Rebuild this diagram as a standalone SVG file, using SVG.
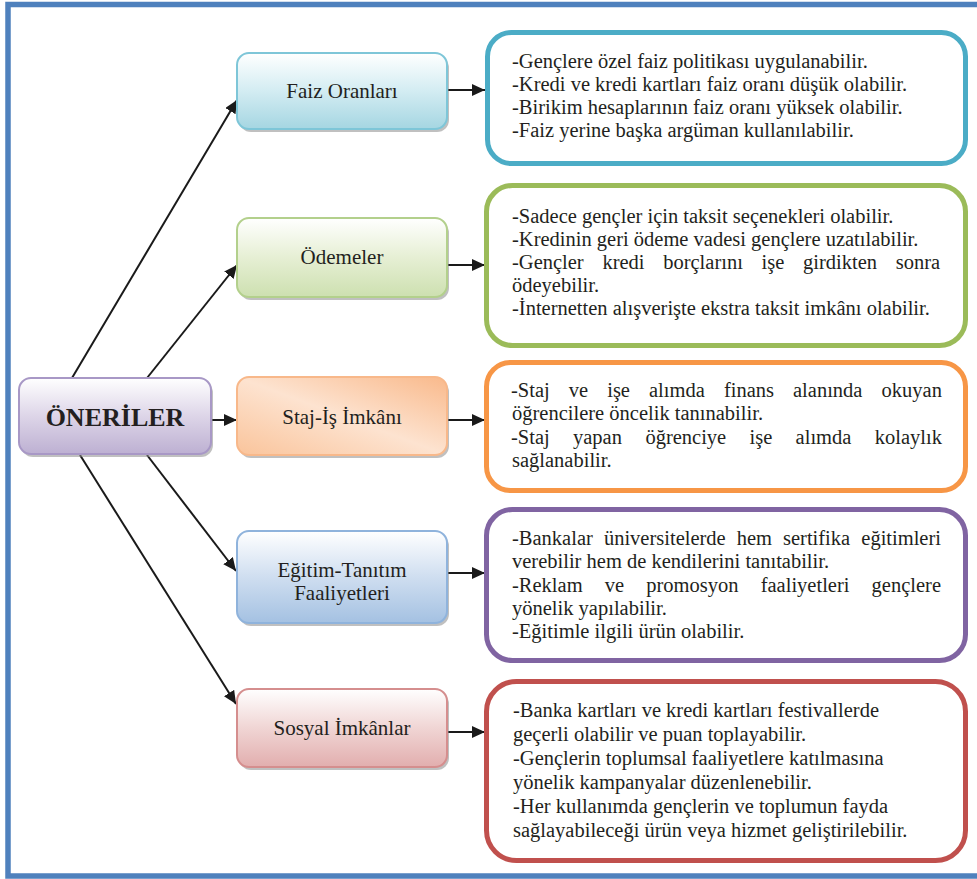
<svg xmlns="http://www.w3.org/2000/svg" width="977" height="879" viewBox="0 0 977 879">
<style>
.lbl{font-family:"Liberation Serif","Times New Roman",serif;font-size:21px;fill:#231f20;text-anchor:middle}
.txt{font-family:"Liberation Serif","Times New Roman",serif;font-size:20.5px;fill:#231f20}
.conn{stroke:#1a1a1a;stroke-width:2;fill:none;marker-end:url(#ah)}
.shadow{fill:#8c8c8c;opacity:0.55}
.card{fill:#fff;stroke-width:5}
</style>
<defs>
<marker id="ah" markerUnits="userSpaceOnUse" markerWidth="14" markerHeight="12" refX="13" refY="6" orient="auto">
<path d="M0,0 L13,6 L0,12 Z" fill="#1a1a1a"/>
</marker>
<linearGradient id="gTeal" x1="0" y1="0" x2="0" y2="1"><stop offset="0" stop-color="#ffffff"/><stop offset="0.5" stop-color="#d3ecf2"/><stop offset="1" stop-color="#a5d6e2"/></linearGradient>
<linearGradient id="gGreen" x1="0" y1="0" x2="0" y2="1"><stop offset="0" stop-color="#ffffff"/><stop offset="0.5" stop-color="#e6efd4"/><stop offset="1" stop-color="#cde0b0"/></linearGradient>
<linearGradient id="gPurple" x1="0" y1="0" x2="0" y2="1"><stop offset="0" stop-color="#ffffff"/><stop offset="0.5" stop-color="#ddd5e8"/><stop offset="1" stop-color="#bdb0d2"/></linearGradient>
<linearGradient id="gOrange" x1="1" y1="0" x2="0" y2="1"><stop offset="0" stop-color="#f9b98b"/><stop offset="0.5" stop-color="#fde3d0"/><stop offset="1" stop-color="#fac49b"/></linearGradient>
<linearGradient id="gBlue" x1="0" y1="0" x2="0" y2="1"><stop offset="0" stop-color="#ffffff"/><stop offset="0.5" stop-color="#cfdef0"/><stop offset="1" stop-color="#a4c1e2"/></linearGradient>
<linearGradient id="gRed" x1="0" y1="0" x2="0" y2="1"><stop offset="0" stop-color="#ffffff"/><stop offset="0.5" stop-color="#f0d5d4"/><stop offset="1" stop-color="#e2aeae"/></linearGradient>
</defs>

<rect x="8" y="4.5" width="1000" height="871.5" fill="#ffffff" stroke="#4f81bd" stroke-width="5.5"/>

<g id="connectors">
<line class="conn" x1="72" y1="378" x2="237" y2="100"/>
<line class="conn" x1="147" y1="378" x2="237" y2="265"/>
<line class="conn" x1="211" y1="420" x2="237" y2="420"/>
<line class="conn" x1="147" y1="455" x2="236" y2="571"/>
<line class="conn" x1="80" y1="455" x2="236" y2="704"/>
<line class="conn" x1="447" y1="90" x2="485" y2="90"/>
<line class="conn" x1="447" y1="265" x2="485" y2="265"/>
<line class="conn" x1="447" y1="420" x2="485" y2="420"/>
<line class="conn" x1="447" y1="573" x2="485" y2="573"/>
<line class="conn" x1="447" y1="732" x2="485" y2="732"/>
</g>

<g id="oneriler">
<rect class="shadow" x="21" y="381" width="192" height="76" rx="12"/>
<rect x="19" y="378" width="192" height="76" rx="12" fill="url(#gPurple)" stroke="#a898c6" stroke-width="2"/>
<text x="115" y="426" class="lbl" style="font-size:26px;font-weight:bold">ÖNERİLER</text>
</g>

<g id="faiz">
<rect class="shadow" x="239" y="56" width="210" height="76" rx="12"/>
<rect x="237" y="53" width="210" height="76" rx="12" fill="url(#gTeal)" stroke="#7ec6d8" stroke-width="2"/>
<text x="342" y="98" class="lbl">Faiz Oranları</text>
</g>

<g id="odemeler">
<rect class="shadow" x="239" y="221" width="210" height="79" rx="12"/>
<rect x="237" y="218" width="210" height="79" rx="12" fill="url(#gGreen)" stroke="#b3d08c" stroke-width="2"/>
<text x="342" y="264" class="lbl">Ödemeler</text>
</g>

<g id="staj">
<rect class="shadow" x="239" y="380" width="210" height="78" rx="12"/>
<rect x="237" y="377" width="210" height="78" rx="12" fill="url(#gOrange)" stroke="#f8b88a" stroke-width="2"/>
<text x="342" y="424" class="lbl">Staj-İş İmkânı</text>
</g>

<g id="egitim">
<rect class="shadow" x="239" y="534" width="210" height="92" rx="12"/>
<rect x="237" y="531" width="210" height="92" rx="12" fill="url(#gBlue)" stroke="#8fb3dc" stroke-width="2"/>
<text x="342" y="577" class="lbl">Eğitim-Tanıtım</text>
<text x="342" y="600" class="lbl">Faaliyetleri</text>
</g>

<g id="sosyal">
<rect class="shadow" x="239" y="692" width="210" height="78" rx="12"/>
<rect x="237" y="689" width="210" height="78" rx="12" fill="url(#gRed)" stroke="#d58e8e" stroke-width="2"/>
<text x="342" y="735" class="lbl">Sosyal İmkânlar</text>
</g>

<g id="box-faiz">
<rect class="card" x="487.5" y="32.5" width="478" height="131" rx="24" stroke="#4bacc6"/>
<text class="txt" x="512" y="68">-Gençlere özel faiz politikası uygulanabilir.</text>
<text class="txt" x="512" y="91">-Kredi ve kredi kartları faiz oranı düşük olabilir.</text>
<text class="txt" x="512" y="114">-Birikim hesaplarının faiz oranı yüksek olabilir.</text>
<text class="txt" x="512" y="137">-Faiz yerine başka argüman kullanılabilir.</text>
</g>

<g id="box-odemeler">
<rect class="card" x="486.5" y="185.5" width="479" height="160" rx="26" stroke="#9bbb59"/>
<text class="txt" x="512" y="223">-Sadece gençler için taksit seçenekleri olabilir.</text>
<text class="txt" x="512" y="246">-Kredinin geri ödeme vadesi gençlere uzatılabilir.</text>
<text class="txt" y="269"><tspan x="512">-Gençler</tspan> <tspan x="602.4">kredi</tspan> <tspan x="663.2">borçlarını</tspan> <tspan x="761.6">işe</tspan> <tspan x="803.1">girdikten</tspan> <tspan x="895.8">sonra</tspan></text>
<text class="txt" x="512" y="292">ödeyebilir.</text>
<text class="txt" x="512" y="315">-İnternetten alışverişte ekstra taksit imkânı olabilir.</text>
</g>

<g id="box-staj">
<rect class="card" x="486.5" y="362.5" width="479" height="128" rx="24" stroke="#f79646"/>
<text class="txt" y="397"><tspan x="511">-Staj</tspan> <tspan x="568.8">ve</tspan> <tspan x="607.2">işe</tspan> <tspan x="649">alımda</tspan> <tspan x="723.9">finans</tspan> <tspan x="793">alanında</tspan> <tspan x="881.6">okuyan</tspan></text>
<text class="txt" x="512" y="420">öğrencilere öncelik tanınabilir.</text>
<text class="txt" y="444"><tspan x="511">-Staj</tspan> <tspan x="573">yapan</tspan> <tspan x="645.4">öğrenciye</tspan> <tspan x="749.5">işe</tspan> <tspan x="795.6">alımda</tspan> <tspan x="874.8">kolaylık</tspan></text>
<text class="txt" x="512" y="467">sağlanabilir.</text>
</g>

<g id="box-egitim">
<rect class="card" x="486.5" y="509.5" width="479" height="151" rx="26" stroke="#8064a2"/>
<text class="txt" y="545"><tspan x="512">-Bankalar</tspan> <tspan x="603.9">üniversitelerde</tspan> <tspan x="736.7">hem</tspan> <tspan x="783">sertifika</tspan> <tspan x="861.3">eğitimleri</tspan></text>
<text class="txt" x="512" y="568">verebilir hem de kendilerini tanıtabilir.</text>
<text class="txt" y="591.5"><tspan x="512">-Reklam</tspan> <tspan x="604.7">ve</tspan> <tspan x="646.3">promosyon</tspan> <tspan x="760.7">faaliyetleri</tspan> <tspan x="871.6">gençlere</tspan></text>
<text class="txt" x="512" y="615">yönelik yapılabilir.</text>
<text class="txt" x="512" y="638">-Eğitimle ilgili ürün olabilir.</text>
</g>

<g id="box-sosyal">
<rect class="card" x="486.5" y="681.5" width="479" height="179" rx="30" stroke="#c0504d"/>
<text class="txt" x="513" y="717">-Banka kartları ve kredi kartları festivallerde</text>
<text class="txt" x="513" y="741">geçerli olabilir ve puan toplayabilir.</text>
<text class="txt" x="513" y="765">-Gençlerin toplumsal faaliyetlere katılmasına</text>
<text class="txt" x="513" y="789">yönelik kampanyalar düzenlenebilir.</text>
<text class="txt" x="513" y="813">-Her kullanımda gençlerin ve toplumun fayda</text>
<text class="txt" x="513" y="837">sağlayabileceği ürün veya hizmet geliştirilebilir.</text>
</g>
</svg>
